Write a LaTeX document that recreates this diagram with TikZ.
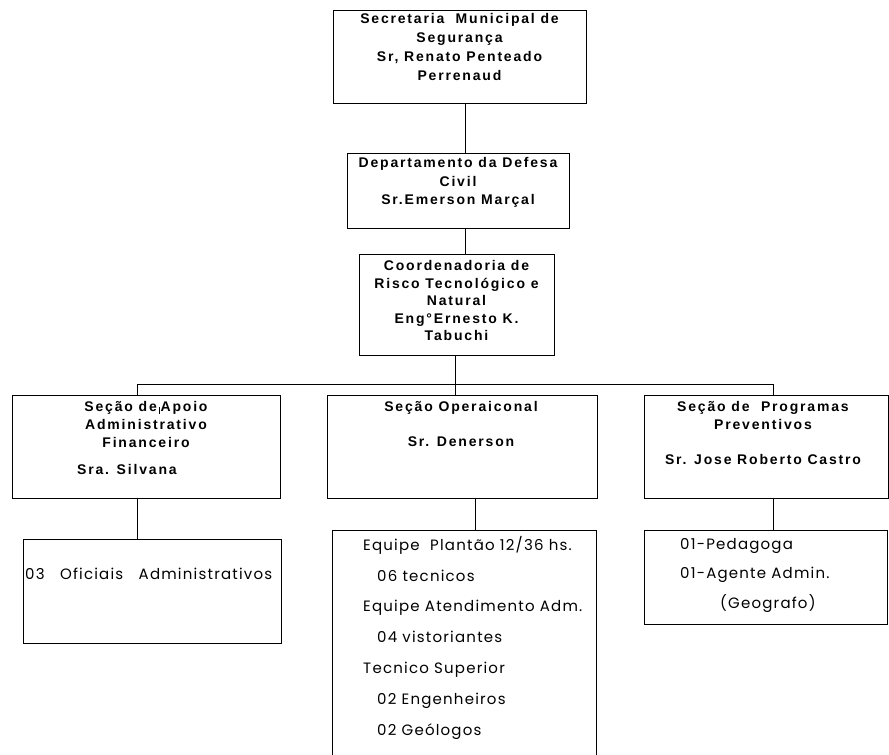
\documentclass[tikz,border=0pt]{standalone}
\usepackage{fontspec}
\newfontfamily\hdfont[LetterSpace=13]{Liberation Sans}
\newfontfamily\lofont[LetterSpace=8]{Poppins}
\begin{document}
\begin{tikzpicture}[x=1pt,y=-1pt,
  box/.style={draw, line width=1pt, inner sep=0pt, rectangle},
  hd/.style={font=\hdfont\bfseries\fontsize{14}{18.5}\selectfont, align=center, inner sep=0pt, anchor=north},
  lo/.style={font=\lofont\fontsize{15}{30.8}\selectfont, inner sep=0pt},
  conn/.style={line width=1pt}]
\useasboundingbox (0,0) rectangle (889,755);
\clip (0,0) rectangle (889,755);
% boxes
\node[box, minimum width=253pt, minimum height=93pt] (sec) at (459.5,56.5) {};
\node[box, minimum width=222pt, minimum height=75pt] (dep) at (458,190.5) {};
\node[box, minimum width=195pt, minimum height=101pt] (coo) at (456.5,304.5) {};
\node[box, minimum width=268pt, minimum height=103pt] (apo) at (146,446.5) {};
\node[box, minimum width=270pt, minimum height=103pt] (ope) at (462,446.5) {};
\node[box, minimum width=244pt, minimum height=103pt] (pro) at (766,446.5) {};
\node[box, minimum width=258pt, minimum height=104pt] (ofi) at (152,591) {};
\node[box, minimum width=264pt, minimum height=250pt] (equ) at (464,655) {};
\node[box, minimum width=243pt, minimum height=94pt] (ped) at (765.5,577) {};
% connector guides
\coordinate (c1) at (465,0);
\coordinate (c2) at (455,0);
\coordinate (c3) at (137,0);
\coordinate (c4) at (475,0);
\coordinate (c5) at (773,0);
\coordinate (bus) at (0,384);
% connectors
\draw[conn] (sec.south -| c1) -- (dep.north -| c1);
\draw[conn] (dep.south -| c1) -- (coo.north -| c1);
\draw[conn] (coo.south -| c2) -- (ope.north -| c2);
\draw[conn] (apo.north -| c3) -- (c3 |- bus) -- (c5 |- bus) -- (pro.north -| c5);
\draw[conn] (apo.south -| c3) -- (ofi.north -| c3);
\draw[conn] (ope.south -| c4) -- (equ.north -| c4);
\draw[conn] (pro.south -| c5) -- (ped.north -| c5);
% texts
\node[hd, font=\hdfont\bfseries\fontsize{14}{19}\selectfont] (tsec) at (459.5,13) {Secretaria\ \ Municipal de\\Segurança\\Sr, Renato Penteado\\Perrenaud};
\node[hd] (tdep) at (458,157.5) {Departamento da Defesa\\Civil\\Sr.Emerson Marçal};
\node[hd, font=\hdfont\bfseries\fontsize{14}{17.5}\selectfont] (tcoo) at (456.5,260.5) {Coordenadoria de\\Risco Tecnológico e\\Natural\\Eng°Ernesto K.\\Tabuchi};
\node[hd, font=\hdfont\bfseries\fontsize{14}{18}\selectfont] (tapo) at (146,401.5) {Seção de\hspace{2pt}\rule[-2pt]{0.7pt}{7pt}\hspace{1pt}Apoio\\Administrativo\\Financeiro};
\node[hd, anchor=north west] (tsil) at (77,464.5) {Sra. Silvana};
\node[hd] (tope) at (461,401.5) {Seção Operaiconal\\[16.5pt]Sr. Denerson};
\node[hd, font=\hdfont\bfseries\fontsize{14}{18}\selectfont] (tpro) at (763,401.5) {Seção de\ \ Programas\\Preventivos\\[17pt]Sr. Jose Roberto Castro};
\node[lo, anchor=west] (tofi) at (25,574) {\makebox[247pt][s]{03 Oficiais Administrativos}};
\node[lo, anchor=north west, align=left] (tequ) at (363,536) {Equipe\ \ Plantão 12/36 hs.\\\hspace*{14pt}06 tecnicos\\Equipe Atendimento Adm.\\\hspace*{14pt}04 vistoriantes\\Tecnico Superior\\\hspace*{14pt}02 Engenheiros\\\hspace*{14pt}02 Geólogos};
\node[lo, anchor=north west, align=left, font=\lofont\fontsize{15}{29.5}\selectfont] (tped) at (680,538) {01-Pedagoga\\01-Agente Admin.\\\hspace*{40pt}(Geografo)};
\end{tikzpicture}
\end{document}
